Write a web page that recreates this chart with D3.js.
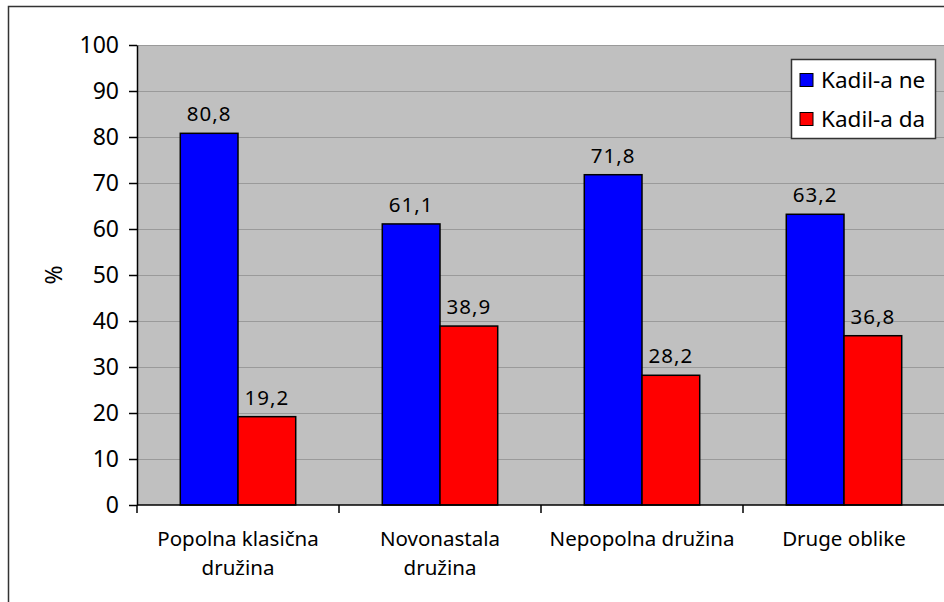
<!DOCTYPE html>
<html>
<head>
<meta charset="utf-8">
<script src="https://cdn.jsdelivr.net/npm/d3@7"></script>
<style>
  body { margin: 0; background: #fff; }
  text { font-family: 'Noto Sans', sans-serif; fill: #000; }
</style>
</head>
<body>
<div id="chart"></div>
<script>
// chart data
const categories = ['Popolna klasična družina', 'Novonastala družina', 'Nepopolna družina', 'Druge oblike'];
// how each category label is broken into lines
const categoryLines = [['Popolna klasična', 'družina'], ['Novonastala', 'družina'], ['Nepopolna družina'], ['Druge oblike']];
const seriesNames = ['Kadil-a ne', 'Kadil-a da'];
const kadilNe = [80.8, 61.1, 71.8, 63.2];
const kadilDa = [19.2, 38.9, 28.2, 36.8];
const yTicks = [0, 10, 20, 30, 40, 50, 60, 70, 80, 90, 100];
const yLabel = '%';

const seriesValues = [kadilNe, kadilDa];
const colors = ['#0000ff', '#ff0000'];

const width = 944;
const height = 602;
const plot = { left: 137, top: 45, right: 945, bottom: 505 };

const svg = d3.select('#chart').append('svg')
  .attr('width', width)
  .attr('height', height);

// outer chart border (right and bottom sides fall outside the picture)
svg.append('rect')
  .attr('x', 8.5).attr('y', 6.5)
  .attr('width', 960).attr('height', 620)
  .attr('fill', '#fff')
  .attr('stroke', '#333')
  .attr('stroke-width', 1.5);

// scales
const x = d3.scaleBand().domain(categories).range([plot.left, plot.right]).padding(0);
const xInner = d3.scaleBand().domain(seriesNames).range([0, x.bandwidth()])
  .paddingInner(0).paddingOuter(0.75);
const y = d3.scaleLinear().domain([0, 100]).range([plot.bottom, plot.top]);

const fmt = d3.formatLocale({ decimal: ',', thousands: '.', grouping: [3], currency: ['', ''] }).format('.1f');

// plot area
svg.append('rect')
  .attr('x', plot.left).attr('y', plot.top)
  .attr('width', plot.right - plot.left).attr('height', plot.bottom - plot.top)
  .attr('fill', '#c0c0c0');

// gridlines
svg.append('g').selectAll('line')
  .data(yTicks.filter(d => d > 0))
  .join('line')
  .attr('x1', plot.left).attr('x2', plot.right)
  .attr('y1', d => Math.round(y(d)) + 0.5).attr('y2', d => Math.round(y(d)) + 0.5)
  .attr('stroke', '#9a9a9a')
  .attr('stroke-width', 1.2);

// y axis
const yAxis = svg.append('g')
  .attr('transform', `translate(${plot.left},0)`)
  .call(d3.axisLeft(y).tickValues(yTicks).tickSize(8).tickSizeOuter(0).tickPadding(10));
yAxis.select('.domain').attr('stroke', '#000').attr('stroke-width', 1.5);
yAxis.selectAll('.tick line').attr('stroke', '#000').attr('stroke-width', 1.5);
yAxis.selectAll('.tick text')
  .attr('font-family', "'Noto Sans', sans-serif")
  .attr('font-size', 23)
  .attr('fill', '#000');

// y axis title
svg.append('text')
  .attr('transform', 'translate(53,275) rotate(-90)')
  .attr('text-anchor', 'middle')
  .attr('dominant-baseline', 'central')
  .attr('font-size', 23)
  .text(yLabel);

// bars
const groups = svg.append('g').selectAll('g')
  .data(categories)
  .join('g')
  .attr('transform', d => `translate(${x(d)},0)`);

groups.selectAll('rect')
  .data((d, i) => seriesNames.map((s, j) => ({ s, v: seriesValues[j][i], c: colors[j] })))
  .join('rect')
  .attr('x', d => xInner(d.s))
  .attr('y', d => y(d.v))
  .attr('width', xInner.bandwidth())
  .attr('height', d => y(0) - y(d.v))
  .attr('fill', d => d.c)
  .attr('stroke', '#000')
  .attr('stroke-width', 1.5);

// data labels
groups.selectAll('text')
  .data((d, i) => seriesNames.map((s, j) => ({ s, v: seriesValues[j][i] })))
  .join('text')
  .attr('x', d => xInner(d.s) + xInner.bandwidth() / 2)
  .attr('y', d => y(d.v) - 12)
  .attr('text-anchor', 'middle')
  .attr('font-size', 20.5)
  .attr('letter-spacing', 1)
  .text(d => fmt(d.v));

// x axis line and category ticks
svg.append('line')
  .attr('x1', plot.left).attr('x2', plot.right)
  .attr('y1', plot.bottom).attr('y2', plot.bottom)
  .attr('stroke', '#000').attr('stroke-width', 1.5);

svg.append('g').selectAll('line')
  .data(categories)
  .join('line')
  .attr('x1', d => x(d)).attr('x2', d => x(d))
  .attr('y1', plot.bottom).attr('y2', plot.bottom + 8)
  .attr('stroke', '#000').attr('stroke-width', 1.5);

// category labels
svg.append('g').selectAll('text')
  .data(categories)
  .join('text')
  .attr('x', d => x(d) + x.bandwidth() / 2)
  .attr('y', 546)
  .attr('text-anchor', 'middle')
  .attr('font-size', 20.5)
  .selectAll('tspan')
  .data((d, i) => categoryLines[i])
  .join('tspan')
  .attr('x', function () { return this.parentNode.getAttribute('x'); })
  .attr('dy', (d, i) => (i === 0 ? 0 : 29))
  .text(d => d);

// legend
const legend = svg.append('g').attr('transform', 'translate(791,59)');
legend.append('rect')
  .attr('x', 0.5).attr('y', 0.5)
  .attr('width', 144).attr('height', 79)
  .attr('fill', '#fff')
  .attr('stroke', '#333')
  .attr('stroke-width', 1.5);

const items = legend.selectAll('g.item')
  .data(seriesNames)
  .join('g')
  .attr('class', 'item')
  .attr('transform', (d, i) => `translate(0,${21 + i * 39})`);

items.append('rect')
  .attr('x', 9).attr('y', -6.5)
  .attr('width', 13).attr('height', 13)
  .attr('fill', (d, i) => colors[i])
  .attr('stroke', '#000')
  .attr('stroke-width', 1);

items.append('text')
  .attr('x', 30)
  .attr('dy', '0.35em')
  .attr('font-size', 22.5)
  .text(d => d);
</script>
</body>
</html>
